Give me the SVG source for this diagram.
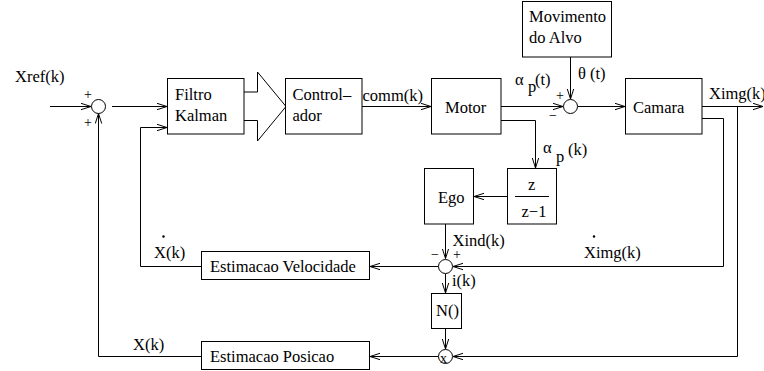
<svg xmlns="http://www.w3.org/2000/svg" width="764" height="371" viewBox="0 0 764 371">
<defs>
<marker id="ah" markerUnits="userSpaceOnUse" markerWidth="12" markerHeight="10" refX="10" refY="4" orient="auto">
<path d="M0,0.8 L10,4 L0,7.2" fill="none" stroke="#000" stroke-width="1"/>
</marker>
</defs>
<style>
text{font-family:'Liberation Serif','DejaVu Serif',serif;font-size:16.5px;fill:#000}
.sm{font-size:14px}
.box{fill:#fff;stroke:#000;stroke-width:1}
.sum{fill:#fff;stroke:#000;stroke-width:1}
.ln{fill:none;stroke:#000;stroke-width:1}
.ar{fill:none;stroke:#000;stroke-width:1;marker-end:url(#ah)}
</style>
<rect width="764" height="371" fill="#fff"/>
<g id="connectors">
<path class="ar" d="M50,106.5 H91"/>
<path class="ar" d="M112,106.5 H167"/>
<path class="ar" d="M201.5,266.5 H140.5 V127.5 H167"/>
<path class="ar" d="M201.5,356.5 H98.5 V113.5"/>
<path class="ln" d="M244,92 H257.5 V72 L286,106.5 L257.5,141 V120.5 H244" fill="#fff"/>
<path class="ar" d="M362,106.5 H431"/>
<path class="ar" d="M501,106.5 H563"/>
<path class="ar" d="M570.5,57 V99"/>
<path class="ar" d="M577.5,106.5 H625"/>
<path class="ar" d="M702,106.5 H763"/>
<path class="ar" d="M501,120.5 H535.5 V168"/>
<path class="ar" d="M507.5,196.5 H474"/>
<path class="ar" d="M445.5,224 V258.5"/>
<path class="ar" d="M702,118.5 H723.5 V266.5 H453"/>
<path class="ar" d="M438.5,266.5 H370"/>
<path class="ar" d="M445.5,273.5 V293"/>
<path class="ar" d="M445.5,328.5 V349"/>
<path class="ar" d="M737.5,106.5 V356.5 H453"/>
<path class="ar" d="M438.5,356.5 H370"/>
</g>
<g font-family="Liberation Serif, DejaVu Serif, serif">
<g id="sum1"><circle class="sum" cx="98.5" cy="106.5" r="7"/></g>
<g id="sum2"><circle class="sum" cx="570.5" cy="106.5" r="7"/></g>
<g id="sum3"><circle class="sum" cx="445.5" cy="266.5" r="7"/></g>
<g id="mult"><circle class="sum" cx="445.5" cy="356.5" r="7"/><text x="440" y="363" class="sm">x</text></g>
<g id="filtro"><rect class="box" x="167.5" y="78.5" width="76.5" height="55.5"/><text x="175" y="100">Filtro</text><text x="175" y="121">Kalman</text></g>
<g id="controlador"><rect class="box" x="285.5" y="78.5" width="76.5" height="55.5"/><text x="292.5" y="100">Control–</text><text x="292.5" y="121">ador</text></g>
<g id="motor"><rect class="box" x="431.5" y="78.5" width="69.5" height="55.5"/><text x="445" y="113">Motor</text></g>
<g id="camara"><rect class="box" x="625.5" y="78.5" width="76.5" height="55.5"/><text x="633" y="113">Camara</text></g>
<g id="movimento"><rect class="box" x="522.5" y="1.5" width="89" height="55.5"/><text x="529" y="22">Movimento</text><text x="529" y="43">do Alvo</text></g>
<g id="ego"><rect class="box" x="424.5" y="168.5" width="49" height="55.5"/><text x="438" y="203">Ego</text></g>
<g id="zfrac"><rect class="box" x="507.5" y="168.5" width="49" height="55.5"/><text x="528" y="190">z</text><line class="ln" x1="515" y1="196.5" x2="549" y2="196.5"/><text x="521.5" y="217">z−1</text></g>
<g id="estvel"><rect class="box" x="201.5" y="251.5" width="168" height="28"/><text x="210" y="272">Estimacao Velocidade</text></g>
<g id="estpos"><rect class="box" x="201.5" y="341.5" width="168" height="28"/><text x="210" y="362">Estimacao Posicao</text></g>
<g id="n"><rect class="box" x="431.5" y="293.5" width="30" height="35"/><text x="436" y="316">N()</text></g>
<g id="labels">
<text x="15" y="82">Xref(k)</text>
<text x="84" y="99" class="sm">+</text>
<text x="84" y="127" class="sm">+</text>
<text x="362.5" y="101">comm(k)</text>
<text x="515" y="85">α</text><text x="528" y="92">p</text><text x="535" y="85">(t)</text>
<text x="578" y="79">θ (t)</text>
<text x="556" y="100" class="sm">+</text>
<text x="549" y="120" class="sm">−</text>
<text x="709" y="99">Ximg(k)</text>
<text x="543" y="153">α</text><text x="556" y="162">p</text><text x="568" y="155">(k)</text>
<text x="452.5" y="246">Xind(k)</text>
<text x="431" y="259" class="sm">−</text>
<text x="453" y="259" class="sm">+</text>
<text x="452" y="286">i(k)</text>
<circle cx="594" cy="236.5" r="1.2" fill="#000"/>
<text x="584" y="258">Ximg(k)</text>
<circle cx="163.5" cy="236.5" r="1.2" fill="#000"/>
<text x="154" y="258">X(k)</text>
<text x="133" y="350">X(k)</text>
</g>
</g>
</svg>
